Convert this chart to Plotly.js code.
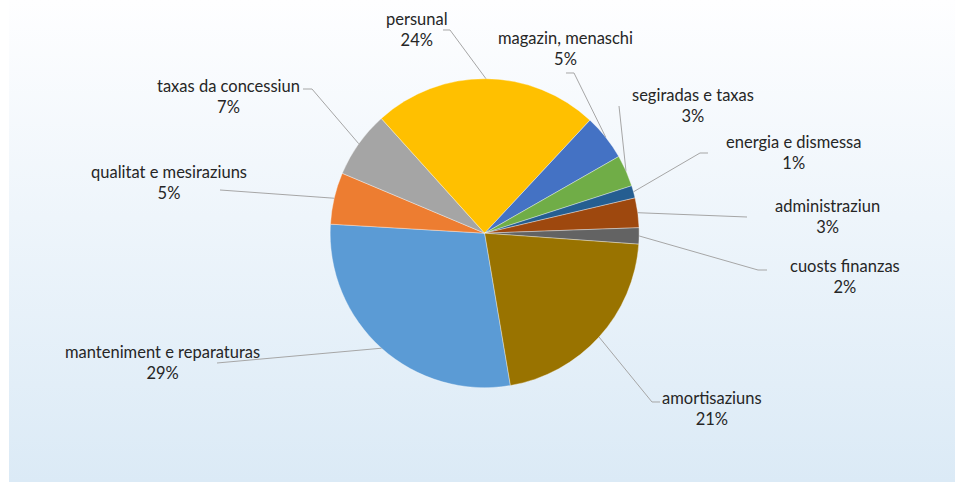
<!DOCTYPE html>
<html>
<head>
<meta charset="utf-8">
<script src="https://cdn.plot.ly/plotly-3.0.1.min.js"></script>
<style>
  html, body { margin:0; padding:0; background:#ffffff; }
  #bg { position:absolute; left:9px; top:0; width:946px; height:482px;
        background: linear-gradient(to bottom, #fefeff 0%, #eef5fb 45%, #dbeaf6 100%); }
  #chart { position:absolute; left:0; top:0; width:955px; height:482px; }
</style>
</head>
<body>
<div id="bg"></div>
<div id="chart"></div>
<script>
// ---- data ----
const categories = [
  "manteniment e reparaturas",
  "qualitat e mesiraziuns",
  "taxas da concessiun",
  "persunal",
  "magazin, menaschi",
  "segiradas e taxas",
  "energia e dismessa",
  "administraziun",
  "cuosts finanzas",
  "amortisaziuns"
];
const shares = [28.6, 5.4, 7.0, 23.6, 4.8, 3.3, 1.3, 3.1, 1.7, 21.2];

// ---- styles / layout settings ----
const sliceColors = ["#5B9BD5","#ED7D31","#A5A5A5","#FFC000","#4472C4",
                     "#70AD47","#255E91","#9E480E","#636363","#997300"];
const W = 955, H = 482;
const startAngle = 170.4;               // degrees clockwise from 12 o'clock
const domX = [0.3457, 0.6693];
const domY = [0.1957, 0.8367];
// label centres (px) and leader-line start points (px, optional elbow)
const labelPos = [
  [162, 362], [169, 182], [228, 97], [417, 29], [565, 49],
  [693, 105], [793, 152], [827, 217], [845, 276], [712, 408]
];
const leaderStart = [
  [[217,363]], [[220,190]], [[303,89],[312,89]], [[443,30],[450,30]],
  [[566,73],[574,73]], [[619,106]], [[708,153],[700,153]], [[747,217]],
  [[767,270],[758,270]], [[660,402],[652,402]]
];

// pie geometry from the domain (same rule Plotly uses)
const cx = W * (domX[0] + domX[1]) / 2;
const cy = H * (1 - (domY[0] + domY[1]) / 2);
const r = Math.min(W * (domX[1] - domX[0]), H * (domY[1] - domY[0])) / 2;

const total = shares.reduce((a, b) => a + b, 0);
const shapes = [];
const annotations = [];
let acc = 0;
shares.forEach((v, i) => {
  const mid = (startAngle + (acc + v / 2) / total * 360) * Math.PI / 180;
  acc += v;
  const ex = cx + r * Math.sin(mid);
  const ey = cy - r * Math.cos(mid);
  const pts = leaderStart[i].concat([[ex, ey]]);
  const path = pts.map((p, k) => (k ? "L" : "M") + (p[0] / W).toFixed(5) + "," + (1 - p[1] / H).toFixed(5)).join(" ");
  shapes.push({type: "path", xref: "paper", yref: "paper", path: path,
               line: {color: "#A6A6A6", width: 1}});
  annotations.push({
    xref: "paper", yref: "paper",
    x: labelPos[i][0] / W, y: 1 - labelPos[i][1] / H,
    xanchor: "center", yanchor: "middle", align: "center",
    showarrow: false,
    text: categories[i] + "<br>" + Math.round(v / total * 100) + "%",
    font: {family: "Lato, 'Liberation Sans', sans-serif", size: 16.5, color: "#262626"}
  });
});

const trace = {
  type: "pie",
  labels: categories,
  values: shares,
  sort: false,
  direction: "clockwise",
  rotation: startAngle,
  textinfo: "none",
  hoverinfo: "label+percent",
  marker: {colors: sliceColors, line: {color: "rgba(255,255,255,0.6)", width: 0.6}},
  domain: {x: domX, y: domY},
  showlegend: false
};

Plotly.newPlot("chart", [trace], {
  width: W, height: H,
  margin: {l: 0, r: 0, t: 0, b: 0},
  paper_bgcolor: "rgba(0,0,0,0)",
  plot_bgcolor: "rgba(0,0,0,0)",
  showlegend: false,
  shapes: shapes,
  annotations: annotations
}, {displayModeBar: false, staticPlot: true});
</script>
</body>
</html>
